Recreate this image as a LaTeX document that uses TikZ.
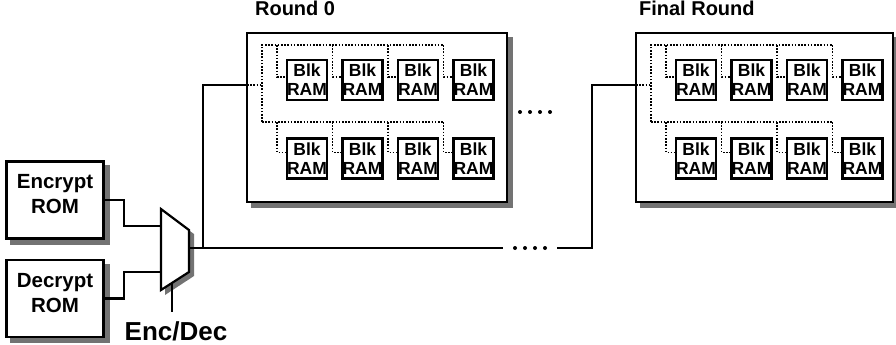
\documentclass[tikz,border=0pt]{standalone}
\usepackage{fontspec}
\setmainfont{Liberation Sans}
\usetikzlibrary{positioning, calc, backgrounds}
\tikzset{
  wire/.style={line width=2.2pt},
  bus/.style={line width=1.8pt, dash pattern=on 1.6pt off 1.6pt},
  shadowfill/.style={fill=black!55},
  rom/.style={draw, line width=2.2pt, fill=white, minimum width=97pt, minimum height=77pt, inner sep=0pt, align=center, text depth=12pt, font=\bfseries\fontsize{20.5}{25}\selectfont},
  roundbox/.style={draw, line width=2.2pt, fill=white, minimum height=169pt, inner sep=0pt},
  blk/.style={draw, line width=2.6pt, fill=white, minimum size=40pt, inner sep=0pt, align=center, font=\bfseries\fontsize{17.5}{19}\selectfont},
  title/.style={font=\bfseries\fontsize{20}{24}\selectfont, inner sep=0pt},
}
\begin{document}
\begin{tikzpicture}[x=1pt, y=-1pt]
\useasboundingbox (0,0) rectangle (896,345);
\node[rom] (enc) at (55, 200) {Encrypt\\ROM};
\node[rom] (dec) at (55, 298.5) {Decrypt\\ROM};

\fill[shadowfill] (165,213) -- (194,234) -- (194,276) -- (165,295) -- cycle;
\draw[wire, fill=white] (161,209) -- (189,230) -- (189,272) -- (161,290) -- cycle;
\coordinate (muxin1) at (161,226);
\coordinate (muxin2) at (161,272);
\coordinate (muxout) at (189,248);
\coordinate (muxsel) at (172,283);
\node[font=\bfseries\fontsize{26}{30}\selectfont, inner sep=0pt, anchor=base] (encdec) at (176,340) {Enc/Dec};

\draw[wire] (enc.east) -- ++(19,0) |- (muxin1);
\draw[wire] (dec.east) -- ++(19,0) |- (muxin2);
\draw[wire, shorten >=9pt] (muxsel) -- (muxsel |- encdec.north);

\foreach \r/\x/\w/\tx/\name in {0/247/260/9/Round 0, 1/636/257/4/Final Round} {
  \node[roundbox, minimum width=\w] (round\r) at (\x+\w/2, 117.5) {};
  \node[title, anchor=base west] (title\r) at ([xshift=\tx, yshift=16pt]round\r.north west) {\name};
  \coordinate (in\r) at (\x, 85);
  \coordinate (tmid\r) at (\x+15, 85);
  \coordinate (ttop\r) at (\x+15, 45);
  \coordinate (tbot\r) at (\x+15, 122);
  \draw[bus] (in\r) -- (tmid\r);
  \draw[bus] (tbot\r) -- (ttop\r) -- ++(181.5,0);
  \draw[bus] (tbot\r) -- ++(181.5,0);
  \foreach \c in {0,...,3} {
    \node[blk] (blk\r a\c) at (\x+60+55.5*\c, 80) {Blk\\RAM};
    \node[blk] (blk\r b\c) at (\x+60+55.5*\c, 158.5) {Blk\\RAM};
    \coordinate (tapa) at (\x+30+55.5*\c, 45);
    \coordinate (tapb) at (\x+30+55.5*\c, 122);
    \draw[bus] (tapa) |- ([yshift=3pt]blk\r a\c.west);
    \draw[bus] (tapb) |- ([yshift=6pt]blk\r b\c.west);
  }
}

\begin{scope}[on background layer]
  \foreach \n in {enc, dec, round0, round1}
    \fill[shadowfill] ($(\n.north west)+(5,5)$) rectangle ($(\n.south east)+(5,5)$);
\end{scope}

\foreach \i in {0,...,3} \fill (520+10*\i, 112) circle (2pt);

\coordinate (tap) at (203,248);
\draw[wire] (muxout) -- (tap) |- (in0);
\node[minimum width=54pt, minimum height=6pt, inner sep=0pt] (gap) at (530,248) {};
\foreach \i in {0,...,3} \fill (515+10*\i, 248) circle (2pt);
\draw[wire] (tap) -- (gap.west);
\coordinate (bend) at (592,248);
\draw[wire] (gap.east) -- (bend) |- (in1);
\end{tikzpicture}
\end{document}
